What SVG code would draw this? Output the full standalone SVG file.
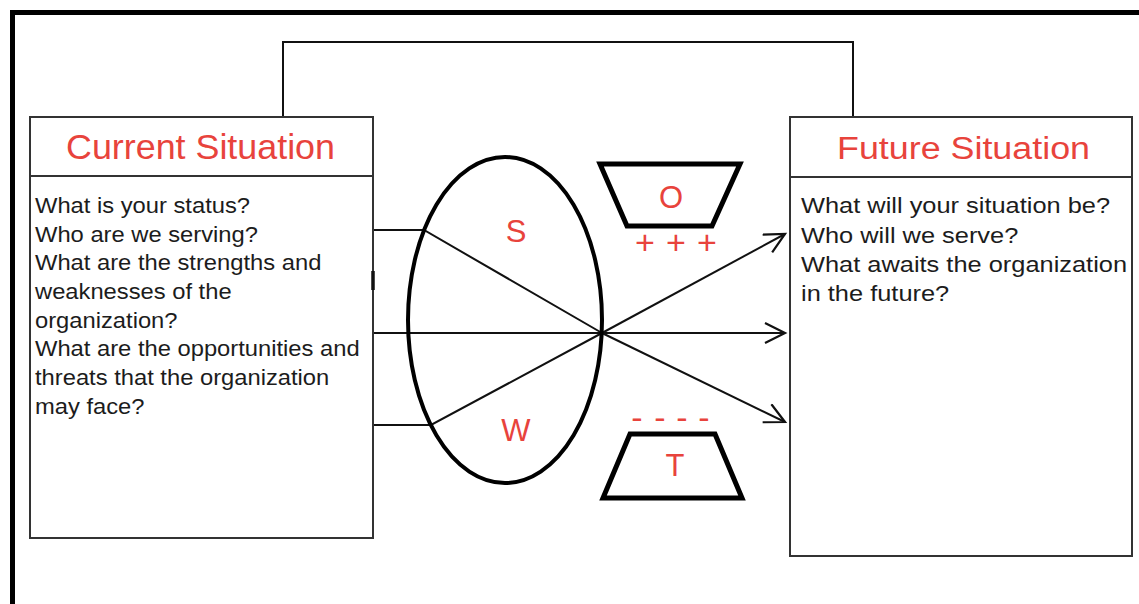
<svg xmlns="http://www.w3.org/2000/svg" width="1139" height="604" viewBox="0 0 1139 604">
  <defs>
    <marker id="arrow" markerUnits="userSpaceOnUse" markerWidth="30" markerHeight="30" refX="22" refY="11" orient="auto" viewBox="0 0 30 30">
      <path d="M2,1 L22,11 L2,21" fill="none" stroke="#111" stroke-width="2.2"/>
    </marker>
  </defs>
  <style>
    .box { fill: #fff; stroke: #333; stroke-width: 2; }
    .title { font-family: "Liberation Sans", Arial, Helvetica, sans-serif; fill: #e8433c; }
    .body { font-family: "Liberation Sans", Arial, Helvetica, sans-serif; font-size: 22px; fill: #1c1c1c; }
    .lbl { font-family: "Liberation Sans", Arial, Helvetica, sans-serif; fill: #e8433c; text-anchor: middle; }
    .conn { fill: none; stroke: #111; stroke-width: 2; }
    .shape { fill: none; stroke: #000; }
  </style>
  <rect x="0" y="0" width="1139" height="604" fill="#fff"/>

  <!-- outer frame -->
  <path d="M12.5,604 V12.5 H1139" fill="none" stroke="#000" stroke-width="5"/>

  <!-- connectors -->
  <g id="connectors">
    <path class="conn" d="M283,117 V42 H853 V117"/>
    <path class="conn" d="M373,230 H424 L602,333"/>
    <path class="conn" d="M373,425 H431 L602,333"/>
    <path class="conn" d="M373,333 H785" marker-end="url(#arrow)"/>
    <path class="conn" d="M602,333 L785,234" marker-end="url(#arrow)"/>
    <path class="conn" d="M602,333 L785,422" marker-end="url(#arrow)"/>
  </g>

  <!-- Current Situation -->
  <g id="current">
    <rect class="box" x="30" y="117" width="343" height="421"/>
    <line x1="30" y1="176" x2="373" y2="176" stroke="#333" stroke-width="2"/>
    <line x1="373" y1="271" x2="373" y2="290" stroke="#111" stroke-width="3.5"/>
    <text class="title" x="66" y="159" font-size="35" textLength="269" lengthAdjust="spacingAndGlyphs">Current Situation</text>
    <g transform="translate(35,0) scale(1.08,1)">
      <text class="body" x="0" y="213">What is your status?</text>
      <text class="body" x="0" y="241.7">Who are we serving?</text>
      <text class="body" x="0" y="270.4">What are the strengths and</text>
      <text class="body" x="0" y="299.1">weaknesses of the</text>
      <text class="body" x="0" y="327.8">organization?</text>
      <text class="body" x="0" y="356.5">What are the opportunities and</text>
      <text class="body" x="0" y="385.2">threats that the organization</text>
      <text class="body" x="0" y="413.9">may face?</text>
    </g>
  </g>

  <!-- Future Situation -->
  <g id="future">
    <rect class="box" x="790" y="117" width="342" height="439"/>
    <line x1="790" y1="177" x2="1132" y2="177" stroke="#333" stroke-width="2"/>
    <text class="title" x="837" y="159" font-size="31" textLength="253" lengthAdjust="spacingAndGlyphs">Future Situation</text>
    <g transform="translate(801,0) scale(1.155,1)">
      <text class="body" x="0" y="213">What will your situation be?</text>
      <text class="body" x="0" y="242.5">Who will we serve?</text>
      <text class="body" x="0" y="272">What awaits the organization</text>
      <text class="body" x="0" y="301.5">in the future?</text>
    </g>
  </g>

  <!-- SW ellipse -->
  <g id="sw">
    <ellipse class="shape" cx="505" cy="320" rx="97" ry="163" stroke-width="4"/>
    <text class="lbl" x="516" y="242" font-size="31">S</text>
    <text class="lbl" x="516" y="441" font-size="31">W</text>
  </g>

  <!-- Opportunities -->
  <g id="opportunities">
    <polygon class="shape" points="600,164 740,164 712,226 627,226" stroke-width="5" stroke-linejoin="miter"/>
    <text class="lbl" x="671" y="208" font-size="31">O</text>
    <text class="lbl" x="645 676 707" y="254" font-size="34">+++</text>
  </g>

  <!-- Threats -->
  <g id="threats">
    <polygon class="shape" points="630,434 715,434 742,498 603,498" stroke-width="5"/>
    <text class="lbl" x="675" y="476" font-size="31">T</text>
    <text class="lbl" x="637 660 682 704" y="429" font-size="34">----</text>
  </g>
</svg>
